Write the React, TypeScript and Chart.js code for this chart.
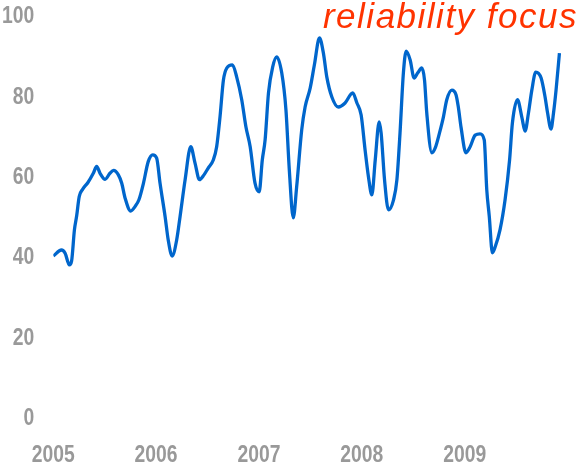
import React, { useEffect, useRef } from "react";
import { Chart, registerables } from "chart.js";

Chart.register(...registerables);

// Days since 2005-01-01 for each sample of the interest series
const sampleDays = [
  0, 29, 42, 57, 65, 75, 83, 92, 104, 123, 142, 154, 166, 184, 201, 214, 231, 243, 255, 275,
  290, 304, 320, 337, 353, 367, 379, 397, 408, 422, 438, 450, 468, 488, 503, 519, 535, 550, 568, 580,
  592, 604, 616, 636, 651, 669, 684, 699, 716, 731, 742, 752, 764, 779, 793, 811, 826, 838, 852, 864,
  882, 894, 912, 927, 945, 959, 971, 989, 1012, 1036, 1063, 1078, 1093, 1107, 1119, 1131, 1143, 1157, 1164, 1176,
  1190, 1208, 1220, 1231, 1243, 1253, 1267, 1281, 1294, 1308, 1318, 1326, 1344, 1356, 1371, 1385, 1397, 1415, 1430, 1438,
  1448, 1465, 1480, 1498, 1515, 1530, 1539, 1548, 1559, 1569, 1586, 1604, 1620, 1630, 1648, 1664, 1675, 1687, 1699, 1713,
  1732, 1746, 1755, 1767, 1776, 1785, 1797,
];

// Relative search interest (0-100)
const interest = [
  40.0, 41.5, 40.7, 37.8, 38.8, 46.5, 50.0, 54.8, 56.6, 58.3, 60.6, 62.3, 60.6, 59.1, 60.6, 61.3, 60.2, 58.1, 54.4, 51.2,
  52.3, 54.0, 58.1, 63.5, 65.2, 64.4, 58.1, 49.8, 44.0, 40.0, 44.0, 49.8, 59.0, 67.2, 63.2, 59.0, 60.2, 61.9, 63.9, 67.2,
  74.7, 83.8, 86.8, 87.6, 84.6, 78.9, 72.1, 67.2, 58.2, 56.0, 63.9, 68.9, 80.6, 87.1, 89.6, 85.6, 76.4, 61.4, 49.5, 57.2,
  71.4, 77.1, 81.8, 87.6, 94.3, 90.5, 84.6, 79.6, 77.1, 78.1, 80.6, 78.1, 75.1, 66.4, 59.7, 55.2, 63.9, 73.4, 70.6, 59.0,
  51.5, 54.0, 59.0, 70.6, 85.6, 91.0, 88.8, 84.3, 85.6, 86.8, 83.8, 75.6, 65.7, 66.9, 70.6, 74.6, 78.9, 81.3, 80.1, 77.1,
  71.9, 65.7, 67.2, 70.1, 70.4, 68.9, 56.5, 49.8, 40.8, 42.3, 46.5, 54.0, 63.9, 73.1, 78.9, 74.4, 71.1, 75.6, 81.3, 85.8,
  84.3, 79.6, 75.6, 71.6, 75.6, 81.3, 90.5,
];

// Year axis: first day of each year and its label
const yearStartDays = [0, 365, 730, 1095, 1461];
const yearLabels = ["2005", "2006", "2007", "2008", "2009"];
const rangeEndDay = 1826;

const yTicks = [0, 20, 40, 60, 80, 100];
const titleText = "reliability focus";

const LABEL_FONT = "bold 23px 'Liberation Sans', Arial, sans-serif";
const LABEL_COLOR = "#999999";
const LABEL_SQUEEZE = 0.84; // condensed look for the axis numbers

function drawSqueezed(ctx: CanvasRenderingContext2D, text: string, x: number, y: number) {
  ctx.save();
  ctx.translate(x, y);
  ctx.scale(LABEL_SQUEEZE, 1);
  ctx.fillText(text, 0, 0);
  ctx.restore();
}

// Axis numbers are drawn from the scales' own tick positions, in a narrow bold face
const axisLabelPlugin = {
  id: "narrowAxisLabels",
  afterDraw(chart: Chart) {
    const ctx = chart.ctx;
    const xs: any = chart.scales.x;
    const ys: any = chart.scales.y;
    ctx.save();
    ctx.font = LABEL_FONT;
    ctx.fillStyle = LABEL_COLOR;
    ctx.textBaseline = "middle";

    ctx.textAlign = "right";
    yTicks.forEach((v) => {
      drawSqueezed(ctx, String(v), ys.left + ys.width - 19, ys.getPixelForValue(v) + 2);
    });

    ctx.textAlign = "center";
    yearStartDays.forEach((d, i) => {
      drawSqueezed(ctx, yearLabels[i], xs.getPixelForValue(d), xs.top + 39.3);
    });
    ctx.restore();
  },
};

const titlePlugin = {
  id: "cornerTitle",
  afterDraw(chart: Chart) {
    const ctx = chart.ctx as CanvasRenderingContext2D & { letterSpacing?: string };
    ctx.save();
    ctx.font = "italic 35px 'Liberation Sans', Arial, sans-serif";
    ctx.letterSpacing = "1.5px";
    ctx.fillStyle = "#ff3300";
    ctx.textAlign = "right";
    ctx.textBaseline = "alphabetic";
    ctx.fillText(titleText, 578, 28);
    ctx.restore();
  },
};

export default function App() {
  const canvasRef = useRef<HTMLCanvasElement | null>(null);

  useEffect(() => {
    if (!canvasRef.current) return;
    const points = sampleDays.map((d, i) => ({ x: d, y: interest[i] }));
    const chart = new Chart(canvasRef.current, {
      type: "line",
      data: {
        datasets: [
          {
            data: points,
            borderColor: "#0066cc",
            borderWidth: 3.3,
            pointRadius: 0,
            cubicInterpolationMode: "monotone",
            fill: false,
          },
        ],
      },
      options: {
        animation: false,
        responsive: false,
        devicePixelRatio: 1,
        layout: { padding: { top: 15, right: 13.4, left: 0, bottom: 0 } },
        plugins: {
          legend: { display: false },
          title: { display: false },
          tooltip: { enabled: false },
        },
        scales: {
          x: {
            type: "linear",
            min: 0,
            max: rangeEndDay,
            grid: { display: false, drawTicks: false },
            border: { display: false },
            afterBuildTicks(scale: any) {
              scale.ticks = yearStartDays.map((v) => ({ value: v }));
            },
            afterFit(scale: any) {
              scale.height = 48.3;
            },
            ticks: { display: false },
          },
          y: {
            min: 0,
            max: 100,
            grid: { display: false, drawTicks: false },
            border: { display: false },
            afterBuildTicks(scale: any) {
              scale.ticks = yTicks.map((v) => ({ value: v }));
            },
            afterFit(scale: any) {
              scale.width = 53.3;
            },
            ticks: { display: false },
          },
        },
      },
      plugins: [axisLabelPlugin, titlePlugin],
    });
    return () => chart.destroy();
  }, []);

  return (
    <div style={{ position: "absolute", left: 0, top: 0, width: 581, height: 465, background: "#ffffff" }}>
      <canvas ref={canvasRef} width={581} height={465} />
    </div>
  );
}
